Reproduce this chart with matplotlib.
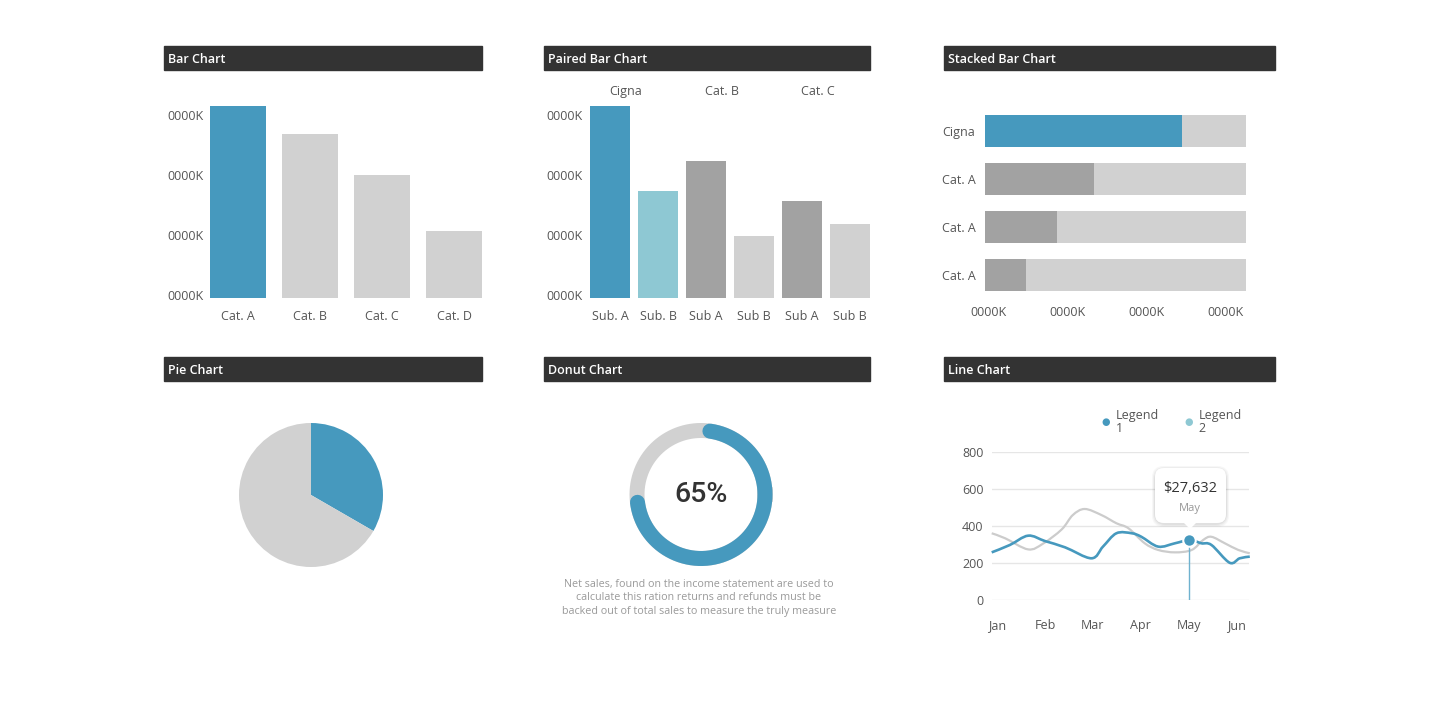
import numpy as np
import matplotlib
matplotlib.use('Agg')
import matplotlib.pyplot as plt
from matplotlib.path import Path
from matplotlib.patches import PathPatch, FancyBboxPatch, Rectangle, Polygon

plt.rcParams['font.family'] = ['Open Sans', 'DejaVu Sans']

W, H = 1440, 704
BLUE = '#4699be'
LIGHT_BLUE = '#8ec8d3'
DARK_GRAY = '#a2a2a2'
LIGHT_GRAY = '#d1d1d1'
BAR_BG = '#333333'
TEXT = '#555555'

# ---- data ----
bar_cats = ['Cat. A', 'Cat. B', 'Cat. C', 'Cat. D']
bar_vals = [320, 273, 205, 112]
bar_ticks = [0, 100, 200, 300]

pair_groups = ['Cigna', 'Cat. B', 'Cat. C']
pair_labels = ['Sub. A', 'Sub. B', 'Sub A', 'Sub B', 'Sub A', 'Sub B']
pair_vals = [320, 178, 228, 103, 162, 123]

stack_cats = ['Cigna', 'Cat. A', 'Cat. A', 'Cat. A']
stack_part = [249, 138, 91, 52]
stack_total = [330, 330, 330, 330]
stack_ticks = [0, 100, 200, 300]

pie_vals = [1, 2]

donut_label = '65%'
donut_arc_deg = 255
donut_note = ('Net sales, found on the income statement are used to\n'
              'calculate this ration returns and refunds must be\n'
              'backed out of total sales to measure the truly measure')

months = ['Jan', 'Feb', 'Mar', 'Apr', 'May', 'Jun']
line_ticks = [0, 200, 400, 600, 800]
s1_x = [-0.11, 0.27, 0.65, 1.00, 1.42, 1.97, 2.21, 2.49, 2.81, 3.01, 3.36,
        3.71, 4.02, 4.26, 4.47, 4.85, 5.06, 5.27]
s1_y = [257, 297, 347, 318, 284, 225, 288, 360, 360, 341, 288,
        306, 324, 306, 297, 201, 225, 234]
s2_x = [-0.11, 0.17, 0.65, 0.96, 1.35, 1.58, 1.83, 2.18, 2.49, 2.74, 3.08,
        3.36, 3.71, 4.06, 4.30, 4.47, 4.75, 5.03, 5.27]
s2_y = [360, 333, 273, 304, 381, 458, 491, 458, 414, 387, 306,
        270, 257, 270, 324, 341, 306, 270, 252]
tip_month = 4
tip_value = 324
tip_text = '$27,632'


def ax_px(l, t, r, b):
    return fig.add_axes([l / W, 1 - b / H, (r - l) / W, (b - t) / H])


def fx(x):
    return x / W


def fy(y):
    return 1 - y / H


def clean(ax):
    for s in ax.spines.values():
        s.set_visible(False)
    ax.tick_params(length=0, colors=TEXT, labelsize=9)


def title_bar(l, t, r, label):
    fig.patches.append(Rectangle((fx(l), fy(t + 24)), (r - l) / W, 24 / H,
                                 transform=fig.transFigure, color=BAR_BG))
    fig.text(fx(l + 4), fy(t + 13.5), label, color='white', fontsize=9,
             fontweight='semibold', va='center', ha='left')


def smooth(xs, ys):
    pts = np.column_stack([xs, ys]).astype(float)
    n = len(pts)
    verts = [pts[0]]
    codes = [Path.MOVETO]
    for i in range(n - 1):
        p0 = pts[max(i - 1, 0)]
        p1 = pts[i]
        p2 = pts[i + 1]
        p3 = pts[min(i + 2, n - 1)]
        verts += [p1 + (p2 - p0) / 6, p2 - (p3 - p1) / 6, p2]
        codes += [Path.CURVE4] * 3
    return Path(verts, codes)


fig = plt.figure(figsize=(W / 100, H / 100), dpi=100)
fig.patch.set_facecolor('white')

title_bar(164, 46, 482, 'Bar Chart')
title_bar(544, 46, 870, 'Paired Bar Chart')
title_bar(944, 46, 1275, 'Stacked Bar Chart')
title_bar(164, 357, 482, 'Pie Chart')
title_bar(544, 357, 870, 'Donut Chart')
title_bar(944, 357, 1275, 'Line Chart')

# the K labels sit a little above their tick value
k_shift = 5

# ---- bar chart ----
ax = ax_px(210, 106, 482, 298)
w = 56 / 72
ax.bar(range(4), bar_vals, width=w, color=[BLUE] + [LIGHT_GRAY] * 3)
ax.set_xlim(-w / 2, 3 + w / 2)
ax.set_ylim(0, 320)
ax.set_xticks(range(4), bar_cats)
ax.set_yticks([v + k_shift for v in bar_ticks], ['0000K'] * 4)
clean(ax)
ax.tick_params(axis='y', pad=4.5)
ax.tick_params(axis='x', pad=9)

# ---- paired bar chart ----
ax = ax_px(590, 106, 870, 298)
w = 40 / 48
ax.bar(range(6), pair_vals, width=w,
       color=[BLUE, LIGHT_BLUE, DARK_GRAY, LIGHT_GRAY, DARK_GRAY, LIGHT_GRAY])
ax.set_xlim(-w / 2, 5 + w / 2)
ax.set_ylim(0, 320)
ax.set_xticks(range(6), pair_labels)
ax.set_yticks([v + k_shift for v in bar_ticks], ['0000K'] * 4)
clean(ax)
ax.tick_params(axis='y', pad=5.5)
ax.tick_params(axis='x', pad=9)
for i, g in enumerate(pair_groups):
    ax.text(2 * i + 0.5 - 0.17, 1.0 + 16 / 192, g, transform=ax.get_xaxis_transform(),
            ha='center', va='center_baseline', fontsize=9, color=TEXT)

# ---- stacked bar chart ----
ax = ax_px(985, 115, 1246, 291)
h = 32 / 48
ax.barh(range(4), stack_total, height=h, color=LIGHT_GRAY)
ax.barh(range(4), stack_part, height=h, color=[BLUE] + [DARK_GRAY] * 3)
ax.set_ylim(3 + h / 2, -h / 2)
ax.set_xlim(0, 330)
ax.set_yticks(range(4), stack_cats)
ax.set_xticks([v + 4 for v in stack_ticks], ['0000K'] * 4)
clean(ax)
ax.tick_params(axis='y', pad=7)
ax.tick_params(axis='x', pad=11)

# ---- pie ----
ax = ax_px(239, 423, 383, 567)
ax.pie(pie_vals, colors=[BLUE, LIGHT_GRAY], startangle=90, counterclock=False,
       radius=1, wedgeprops=dict(linewidth=0))
ax.set_xlim(-1, 1)
ax.set_ylim(-1, 1)
ax.set_aspect('equal')
ax.axis('off')

# ---- donut ----
ax = ax_px(629, 422.5, 773, 566.5)
ax.set_xlim(-1, 1)
ax.set_ylim(-1, 1)
ax.axis('off')
r = 64 / 72
t = np.linspace(0, 2 * np.pi, 361)
ax.plot(r * np.cos(t), r * np.sin(t), color=LIGHT_GRAY, lw=15 * 0.72)
start = np.deg2rad(82)
t = np.linspace(start, start - np.deg2rad(donut_arc_deg), 300)
ax.plot(r * np.cos(t), r * np.sin(t), color=BLUE, lw=15 * 0.72,
        solid_capstyle='round')
ax.text(0, 0, donut_label, ha='center', va='center', fontsize=20.5,
        color='#333333', family=['Roboto', 'DejaVu Sans'], fontweight='medium')
fig.text(fx(699), fy(598), donut_note, ha='center', va='center', fontsize=7.75,
         color='#9a9a9a', linespacing=1.3)

# ---- line chart ----
ax = ax_px(991.7, 451.7, 1249.3, 600)
ax.set_xlim(-0.11, 5.26)
ax.set_ylim(0, 800)
ax.set_yticks(line_ticks)
ax.set_xticks(range(6), months)
ax.grid(axis='y', color='#e6e6e6', lw=1)
ax.set_axisbelow(True)
clean(ax)
ax.tick_params(axis='y', pad=6)
ax.tick_params(axis='x', pad=14)
ax.add_patch(PathPatch(smooth(s2_x, s2_y), fill=False, edgecolor='#cccccc',
                       lw=1.6, clip_on=False))
ax.add_patch(PathPatch(smooth(s1_x, s1_y), fill=False, edgecolor=BLUE,
                       lw=1.9, clip_on=False))
ax.plot([tip_month, tip_month], [0, tip_value], color='#6fb2cf', lw=1.0,
        zorder=4)
ax.plot([tip_month], [tip_value], 'o', ms=9, color=BLUE, mec='white', mew=1.5,
        zorder=5)

# tooltip
bx0, by0, bx1, by1 = 1155, 468, 1226, 523
for k, a in [(6, 0.03), (4, 0.04), (2, 0.05)]:
    fig.patches.append(FancyBboxPatch(
        (fx(bx0 - k / 2), fy(by1 + k / 2 + 1)), (bx1 - bx0 + k) / W,
        (by1 - by0 + k) / H, boxstyle='round,pad=0,rounding_size=0.008',
        transform=fig.transFigure, facecolor='black', alpha=a, lw=0,
        mutation_aspect=W / H))
fig.patches.append(FancyBboxPatch(
    (fx(bx0), fy(by1)), (bx1 - bx0) / W, (by1 - by0) / H,
    boxstyle='round,pad=0,rounding_size=0.006', transform=fig.transFigure,
    facecolor='white', lw=0, mutation_aspect=W / H))
fig.patches.append(Polygon([(fx(1183), fy(522)), (fx(1197), fy(522)),
                            (fx(1190), fy(529))], closed=True,
                           transform=fig.transFigure, facecolor='white', lw=0))
fig.text(fx(1190), fy(489), tip_text, ha='center', va='center', fontsize=10.5,
         color='#333333')
fig.text(fx(1190), fy(508), months[tip_month], ha='center', va='center',
         fontsize=8, color='#999999')

# legend
for x, c, lab in [(1106, BLUE, 'Legend\n1'), (1189, LIGHT_BLUE, 'Legend\n2')]:
    fig.text(fx(x), fy(422.5), '\u25cf', ha='center', va='center', fontsize=7,
             color=c, family='DejaVu Sans')
    fig.text(fx(x + 9.5), fy(422.5), lab, ha='left', va='center', fontsize=9,
             color=TEXT, linespacing=1.0)

fig.savefig('out.png', dpi=100, facecolor='white')
